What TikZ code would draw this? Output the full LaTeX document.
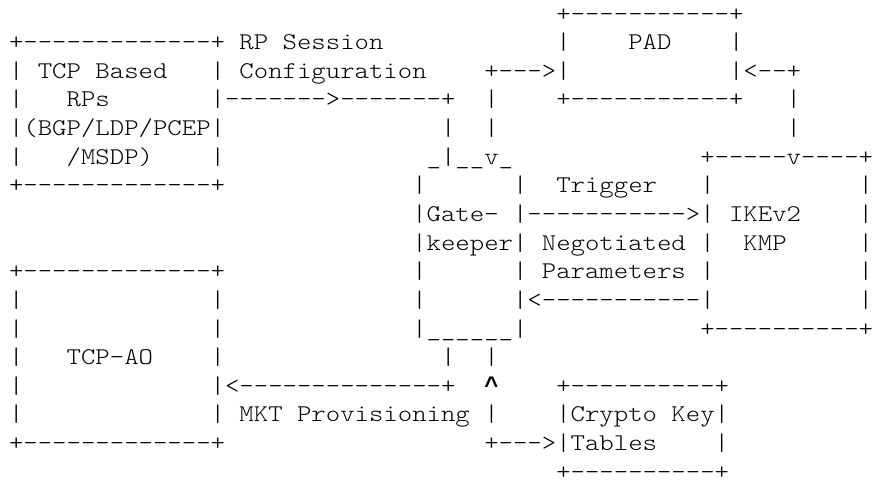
\documentclass[tikz,border=0pt]{standalone}
\usepackage{fontspec}
\setmonofont{lmmonolt10-regular.otf}[FakeStretch=1.1429]
\newfontfamily\caretfont{Liberation Mono}

\begin{document}
\begin{tikzpicture}[x=7.2pt, y=-14.32pt,
    ascii/.style={font=\ttfamily\fontsize{12}{14}\selectfont, inner sep=0pt, text depth=0pt, anchor=base west}]
    \useasboundingbox (-0.6,0.267) rectangle (60.09,17.027);

    % RP box and session configuration
    \node[ascii] (rps1) at (0,2) {+-------------+};
    \node[ascii] (rps2) at (0,3) {|~TCP~Based~~~|};
    \node[ascii] (rps3) at (0,4) {|~~~RPs~~~~~~~|};
    \node[ascii] (rps4) at (0,5) {|(BGP/LDP/PCEP|};
    \node[ascii] (rps5) at (0,6) {|~~~/MSDP)~~~~|};
    \node[ascii] (rps6) at (0,7) {+-------------+};
    \node[ascii] (cfg1) at (16,2) {RP Session};
    \node[ascii] (cfg2) at (16,3) {Configuration};
    \node[ascii] (cfgarr) at (15,4) {------->-------+};
    \node[ascii] (gkline1) at (30,5) {|~~|};

    % PAD
    \node[ascii] (pad1) at (38,1) {+-----------+};
    \node[ascii] (pad2) at (38,2) {|~~~~PAD~~~~|};
    \node[ascii] (pad3) at (38,3) {|~~~~~~~~~~~|};
    \node[ascii] (pad4) at (38,4) {+-----------+};
    \node[ascii] (padarr) at (33,3) {+--->};
    \node[ascii] (padline) at (33,4) {|};
    \node[ascii] (ikearr) at (51,3) {<--+};
    \node[ascii] (ikeline1) at (54,4) {|};
    \node[ascii] (ikeline2) at (54,5) {|};

    % Gatekeeper
    \node[ascii] (gk1) at (29,6) {\_|\_\_v\_};
    \node[ascii] (gk2) at (28,7) {|~~~~~~|};
    \node[ascii] (gk3) at (28,8) {|Gate-~|};
    \node[ascii] (gk4) at (28,9) {|keeper|};
    \node[ascii] (gk5) at (28,10) {|~~~~~~|};
    \node[ascii] (gk6) at (28,11) {|~~~~~~|};
    \node[ascii] (gk7) at (28,12) {|\_\_\_\_\_\_|};
    \node[ascii] (gkline2) at (30,13) {|~~|};

    % IKEv2 KMP
    \node[ascii] (ike1) at (48,6) {+-----v----+};
    \node[ascii] (ike2) at (48,7) {|~~~~~~~~~~|};
    \node[ascii] (ike3) at (48,8) {|~IKEv2~~~~|};
    \node[ascii] (ike4) at (48,9) {|~~KMP~~~~~|};
    \node[ascii] (ike5) at (48,10) {|~~~~~~~~~~|};
    \node[ascii] (ike6) at (48,11) {|~~~~~~~~~~|};
    \node[ascii] (ike7) at (48,12) {+----------+};
    \node[ascii] (trig) at (38,7) {Trigger};
    \node[ascii] (trigarr) at (36,8) {----------->};
    \node[ascii] (neg1) at (37,9) {Negotiated};
    \node[ascii] (neg2) at (37,10) {Parameters};
    \node[ascii] (negarr) at (36,11) {<-----------};

    % TCP-AO
    \node[ascii] (ao1) at (0,10) {+-------------+};
    \node[ascii] (ao2) at (0,11) {|~~~~~~~~~~~~~|};
    \node[ascii] (ao3) at (0,12) {|~~~~~~~~~~~~~|};
    \node[ascii] (ao4) at (0,13) {|~~~TCP-AO~~~~|};
    \node[ascii] (ao5) at (0,14) {|~~~~~~~~~~~~~|};
    \node[ascii] (ao6) at (0,15) {|~~~~~~~~~~~~~|};
    \node[ascii] (ao7) at (0,16) {+-------------+};
    \node[ascii] (mktarr) at (15,14) {<--------------+};
    \node[ascii] (mkt) at (16,15) {MKT Provisioning};

    % Crypto key tables
    \node[ascii] (key1) at (38,14) {+----------+};
    \node[ascii] (key2) at (38,15) {|Crypto~Key|};
    \node[ascii] (key3) at (38,16) {|Tables~~~~|};
    \node[ascii] (key4) at (38,17) {+----------+};
    \node[ascii] (keyup) at (33,14) {\caretfont\bfseries\textasciicircum};
    \node[ascii] (keyline) at (33,15) {|};
    \node[ascii] (keyarr) at (33,16) {+--->};
\end{tikzpicture}
\end{document}
